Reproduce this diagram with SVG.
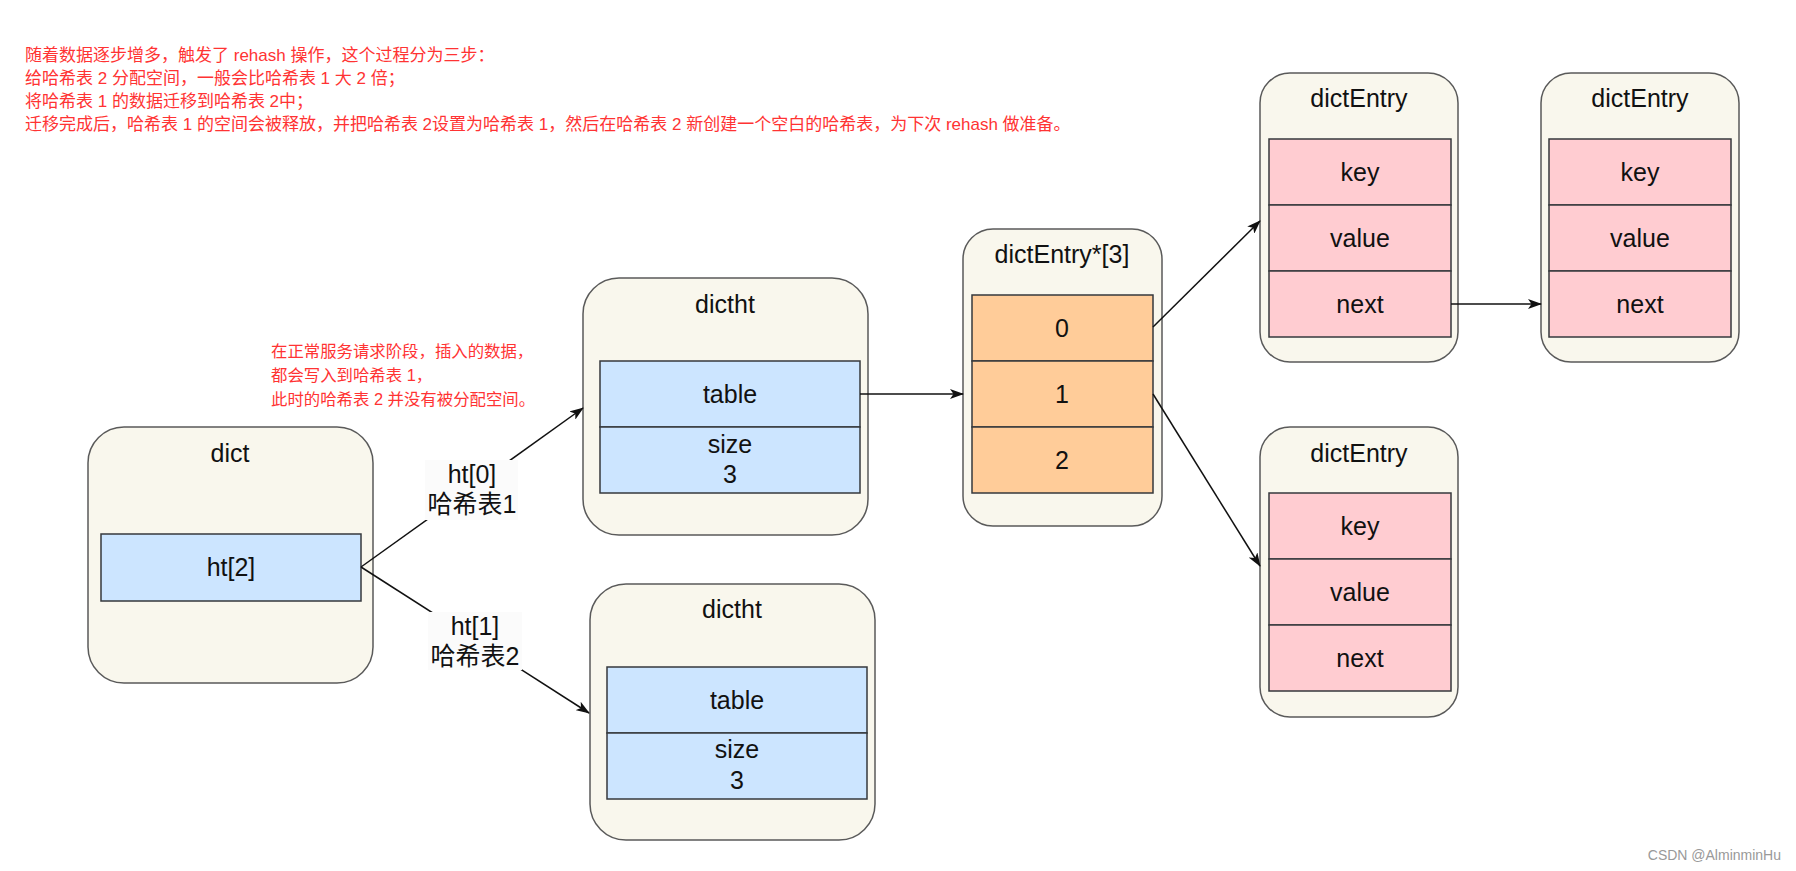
<svg xmlns="http://www.w3.org/2000/svg" width="1796" height="871" viewBox="0 0 1796 871">
<defs>
<style>
.box{fill:#f9f7ed;stroke:#5a5a5a;stroke-width:1.5}
.blue{fill:#cce5ff;stroke:#36393d;stroke-width:1.5}
.orange{fill:#ffcc99;stroke:#36393d;stroke-width:1.5}
.pink{fill:#ffccd1;stroke:#36393d;stroke-width:1.5}
.t{font-family:"Liberation Sans",Arial,"Noto Sans CJK SC",sans-serif;font-size:25px;fill:#111;text-anchor:middle}
.red{font-family:"Liberation Sans","Noto Sans CJK SC",sans-serif;font-size:17px;fill:#ff3333}
.red2{font-family:"Liberation Sans","Noto Sans CJK SC",sans-serif;font-size:16.4px;fill:#ff3333}
.conn{stroke:#111;stroke-width:1.5;fill:none;marker-end:url(#arr)}
</style>
<marker id="arr" viewBox="0 0 14 10" refX="13" refY="5" markerWidth="14" markerHeight="10" markerUnits="userSpaceOnUse" orient="auto">
<path d="M0,0 L14,5 L0,10 L3.5,5 Z" fill="#111"/>
</marker>
</defs>
<rect width="1796" height="871" fill="#ffffff"/>

<g id="notes">
<text class="red" x="25" y="61">随着数据逐步增多，触发了 rehash 操作，这个过程分为三步：</text>
<text class="red" x="25" y="84">给哈希表 2 分配空间，一般会比哈希表 1 大 2 倍；</text>
<text class="red" x="25" y="107">将哈希表 1 的数据迁移到哈希表 2中；</text>
<text class="red" x="25" y="130">迁移完成后，哈希表 1 的空间会被释放，并把哈希表 2设置为哈希表 1，然后在哈希表 2 新创建一个空白的哈希表，为下次 rehash 做准备。</text>
<text class="red2" x="271" y="357">在正常服务请求阶段，插入的数据，</text>
<text class="red2" x="271" y="381">都会写入到哈希表 1，</text>
<text class="red2" x="271" y="405">此时的哈希表 2 并没有被分配空间。</text>
</g>

<g id="dict">
<rect class="box" x="88" y="427" width="285" height="256" rx="36"/>
<text class="t" x="230" y="462">dict</text>
<rect class="blue" x="101" y="534" width="260" height="67"/>
<text class="t" x="231" y="576">ht[2]</text>
</g>

<g id="dictht1">
<rect class="box" x="583" y="278" width="285" height="257" rx="36"/>
<text class="t" x="725" y="313">dictht</text>
<rect class="blue" x="600" y="361" width="260" height="66"/>
<text class="t" x="730" y="403">table</text>
<rect class="blue" x="600" y="427" width="260" height="66"/>
<text class="t" x="730" y="453">size</text>
<text class="t" x="730" y="483">3</text>
</g>

<g id="dictht2">
<rect class="box" x="590" y="584" width="285" height="256" rx="36"/>
<text class="t" x="732" y="618">dictht</text>
<rect class="blue" x="607" y="667" width="260" height="66"/>
<text class="t" x="737" y="709">table</text>
<rect class="blue" x="607" y="733" width="260" height="66"/>
<text class="t" x="737" y="758">size</text>
<text class="t" x="737" y="789">3</text>
</g>

<g id="buckets">
<rect class="box" x="963" y="229" width="199" height="297" rx="30"/>
<text class="t" x="1062" y="263">dictEntry*[3]</text>
<rect class="orange" x="972" y="295" width="181" height="66"/>
<text class="t" x="1062" y="337">0</text>
<rect class="orange" x="972" y="361" width="181" height="66"/>
<text class="t" x="1062" y="403">1</text>
<rect class="orange" x="972" y="427" width="181" height="66"/>
<text class="t" x="1062" y="469">2</text>
</g>

<g id="dictEntry1">
<rect class="box" x="1260" y="73" width="198" height="289" rx="30"/>
<text class="t" x="1359" y="107">dictEntry</text>
<rect class="pink" x="1269" y="139" width="182" height="66"/>
<text class="t" x="1360" y="181">key</text>
<rect class="pink" x="1269" y="205" width="182" height="66"/>
<text class="t" x="1360" y="247">value</text>
<rect class="pink" x="1269" y="271" width="182" height="66"/>
<text class="t" x="1360" y="313">next</text>
</g>

<g id="dictEntry2">
<rect class="box" x="1541" y="73" width="198" height="289" rx="30"/>
<text class="t" x="1640" y="107">dictEntry</text>
<rect class="pink" x="1549" y="139" width="182" height="66"/>
<text class="t" x="1640" y="181">key</text>
<rect class="pink" x="1549" y="205" width="182" height="66"/>
<text class="t" x="1640" y="247">value</text>
<rect class="pink" x="1549" y="271" width="182" height="66"/>
<text class="t" x="1640" y="313">next</text>
</g>

<g id="dictEntry3">
<rect class="box" x="1260" y="427" width="198" height="290" rx="30"/>
<text class="t" x="1359" y="462">dictEntry</text>
<rect class="pink" x="1269" y="493" width="182" height="66"/>
<text class="t" x="1360" y="535">key</text>
<rect class="pink" x="1269" y="559" width="182" height="66"/>
<text class="t" x="1360" y="601">value</text>
<rect class="pink" x="1269" y="625" width="182" height="66"/>
<text class="t" x="1360" y="667">next</text>
</g>

<g id="connectors">
<line class="conn" x1="361" y1="567" x2="583" y2="408"/>
<line class="conn" x1="361" y1="567" x2="589" y2="713"/>
<line class="conn" x1="860" y1="394" x2="963" y2="394"/>
<line class="conn" x1="1153" y1="327" x2="1260" y2="221"/>
<line class="conn" x1="1153" y1="394" x2="1260" y2="566"/>
<line class="conn" x1="1451" y1="304" x2="1541" y2="304"/>
<rect x="425" y="460" width="93" height="60" fill="#fbfbfb"/>
<text class="t" x="472" y="483">ht[0]</text>
<text class="t" x="472" y="513">哈希表1</text>
<rect x="428" y="612" width="94" height="58" fill="#fbfbfb"/>
<text class="t" x="475" y="635">ht[1]</text>
<text class="t" x="475" y="665">哈希表2</text>
</g>

<g id="watermark">
<text x="1781" y="860" font-family="'Liberation Sans',Arial,sans-serif" font-size="14" fill="#999999" text-anchor="end">CSDN @AlminminHu</text>
</g>
</svg>
